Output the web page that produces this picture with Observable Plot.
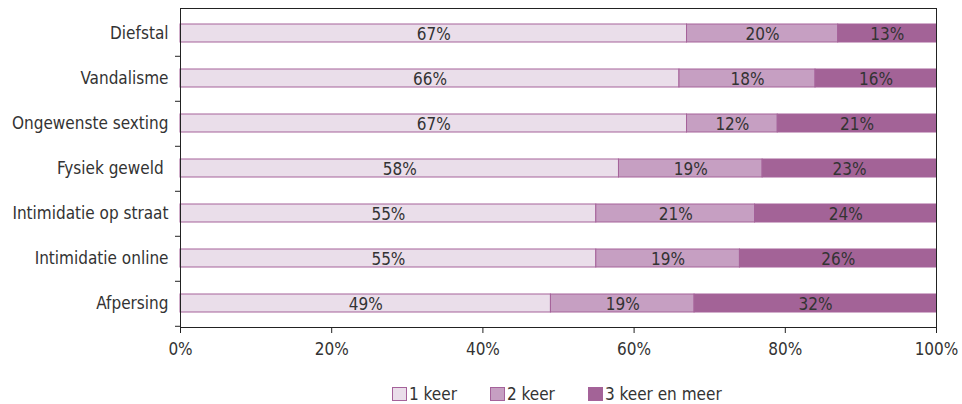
<!DOCTYPE html>
<html><head><meta charset="utf-8">
<script src="https://cdn.jsdelivr.net/npm/d3@7"></script>
<script src="https://cdn.jsdelivr.net/npm/@observablehq/plot@0.6"></script>
<style>
body{margin:0;background:#fff;font-family:"DejaVu Sans Condensed","Liberation Sans",sans-serif;color:#333;}
#legend{display:flex;margin-left:392px;margin-top:12px;font-size:17px;line-height:20px;align-items:center;}
#legend .item{display:flex;align-items:center;margin-right:33px;}
#legend .sw{width:15px;height:14px;box-sizing:border-box;border:1.5px solid #a5629a;margin-right:2px;}
</style></head><body>
<div id="chart"></div>
<div id="legend"></div>
<script>
const categories = ["Diefstal","Vandalisme","Ongewenste sexting","Fysiek geweld\u00a0","Intimidatie op straat","Intimidatie online","Afpersing"];
const series = ["1 keer","2 keer","3 keer en meer"];
const keer1 = [67,66,67,58,55,55,49];
const keer2 = [20,18,12,19,21,19,19];
const keer3 = [13,16,21,23,24,26,32];
const colors = ["#eadeea","#c69fc2","#a36397"];
const xTicks = [0,20,40,60,80,100];

const values = [keer1,keer2,keer3];
const data = [];
categories.forEach((c,i)=>series.forEach((s,j)=>data.push({cat:c,series:s,value:values[j][i]})));

const W = 962, H = 372, MT = 8, MB = 45;
const step = (H - MT - MB) / categories.length;
const font = '"DejaVu Sans Condensed","Liberation Sans",sans-serif';
const chart = Plot.plot({
  width: W, height: H,
  marginTop: MT, marginBottom: MB, marginLeft: 180, marginRight: 26,
  style: {fontFamily: font, fontSize: "17px", color: "#333", background: "#fff"},
  x: {domain:[0,100], label: null},
  y: {domain: categories, paddingInner: 0.6, paddingOuter: 0.3, label: null},
  color: {domain: series, range: colors},
  marks: [
    Plot.barX(data, Plot.stackX({x:"value", y:"cat", fill:"series", stroke:"#a5629a", strokeWidth:1})),
    Plot.text(data, Plot.stackX({x:"value", y:"cat", text:d=>d.value+"%", fill:"#333", fontSize:17, dy:1})),
    Plot.axisY({tickSize:0, tickPadding:12, fontSize:17, fill:"#333"}),
    Plot.axisY({tickSize:5, text:null, dy: step/2, stroke:"#222"}),
    Plot.axisX({ticks: xTicks, tickSize:6, tickPadding:9, fontSize:17, fill:"#333", stroke:"#222", tickFormat:d=>d+"%"}),
    Plot.frame({stroke:"#222"})
  ]
});
document.getElementById("chart").appendChild(chart);

const lg = document.getElementById("legend");
series.forEach((s,i)=>{
  const it = document.createElement("div"); it.className="item";
  const sw = document.createElement("div"); sw.className="sw"; sw.style.background=colors[i];
  const t = document.createElement("span"); t.textContent=s;
  it.appendChild(sw); it.appendChild(t); lg.appendChild(it);
});
</script>
</body></html>
